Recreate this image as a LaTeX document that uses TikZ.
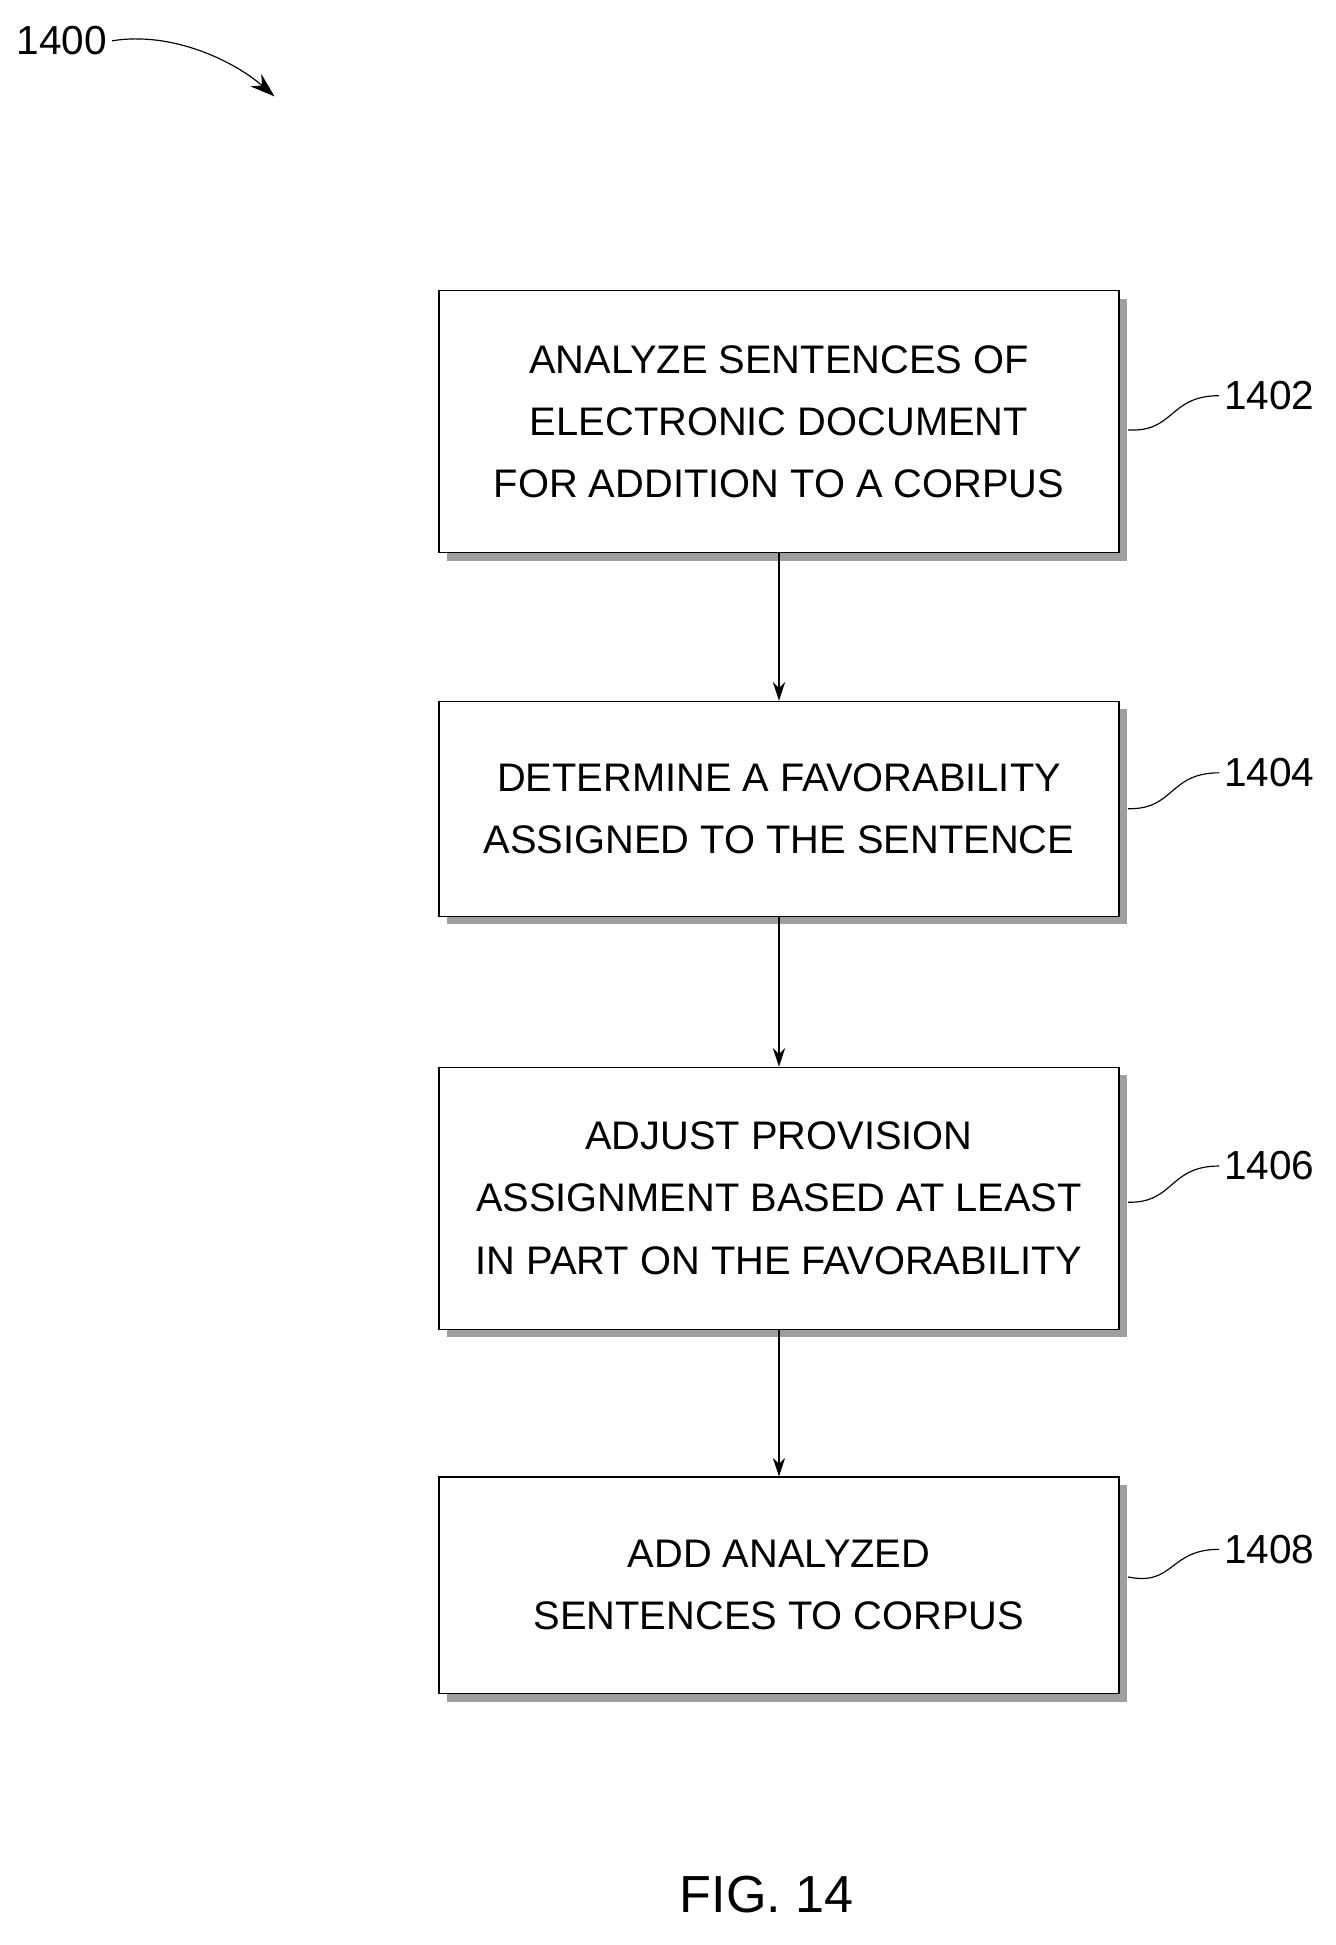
\documentclass[tikz,border=0pt]{standalone}
\usepackage{fontspec}
\setmainfont{Liberation Sans}
\usetikzlibrary{calc, shadows, arrows.meta}
\tikzset{
    stepbox/.style={thick, draw=black, fill=white, minimum width=16.5cm, align=center,
        font=\fontsize{27.5}{43}\selectfont,
        drop shadow={shadow xshift=0.2cm, shadow yshift=-0.2cm, fill=black!75}},
    ref/.style={font=\fontsize{28}{30}\selectfont},
    flow/.style={thick, -{Stealth[length=0.45cm, width=0.3cm]}},
}
\begin{document}
\begin{tikzpicture}[x=0.03cm, y=-0.03cm]
    \newcommand\posX{630}
    \useasboundingbox (0,0) rectangle (1080,1573);

    \node[stepbox, minimum height=6.36cm] (S1) at (\posX, 341){ANALYZE SENTENCES OF\\ELECTRONIC DOCUMENT\\FOR ADDITION TO A CORPUS};
    \node[stepbox, minimum height=5.22cm] (S2) at (\posX, 654){DETERMINE A FAVORABILITY\\ASSIGNED TO THE SENTENCE};
    \node[stepbox, minimum height=6.36cm] (S3) at (\posX, 969){ADJUST PROVISION\\ASSIGNMENT BASED AT LEAST\\IN PART ON THE FAVORABILITY};
    \node[stepbox, minimum height=5.25cm] (S4) at (\posX, 1282){ADD ANALYZED\\SENTENCES TO CORPUS};

    \draw[flow] (S1) -- (S2);
    \draw[flow] (S2) -- (S3);
    \draw[flow] (S3) -- (S4);

    \node[ref, anchor=west] (r1) at (986, 320){1402};
    \node[ref, anchor=west] (r2) at (986, 625){1404};
    \node[ref, anchor=west] (r3) at (986, 943){1406};
    \node[ref, anchor=west] (r4) at (986, 1253){1408};
    \draw[thick] ($(S1.east)+(0.2cm,-0.2cm)$) .. controls (950, 350) and (945, 320) .. (r1.west);
    \draw[thick] ($(S2.east)+(0.2cm,0)$) .. controls (950, 655) and (945, 625) .. (r2.west);
    \draw[thick] ($(S3.east)+(0.2cm,-0.1cm)$) .. controls (950, 973) and (945, 943) .. (r3.west);
    \draw[thick] ($(S4.east)+(0.2cm,0.2cm)$) .. controls (950, 1283) and (945, 1253) .. (r4.west);

    \node[ref] (fig) at (50, 33){1400};
    \coordinate (figend) at (222, 78);
    \draw[thick, -{Stealth[length=0.6cm, width=0.4cm]}] (fig.east) .. controls (140, 25) and (190, 50) .. (figend);

    \node[font=\fontsize{36}{40}\selectfont] (cap) at (620, 1532){FIG. 14};
\end{tikzpicture}
\end{document}
